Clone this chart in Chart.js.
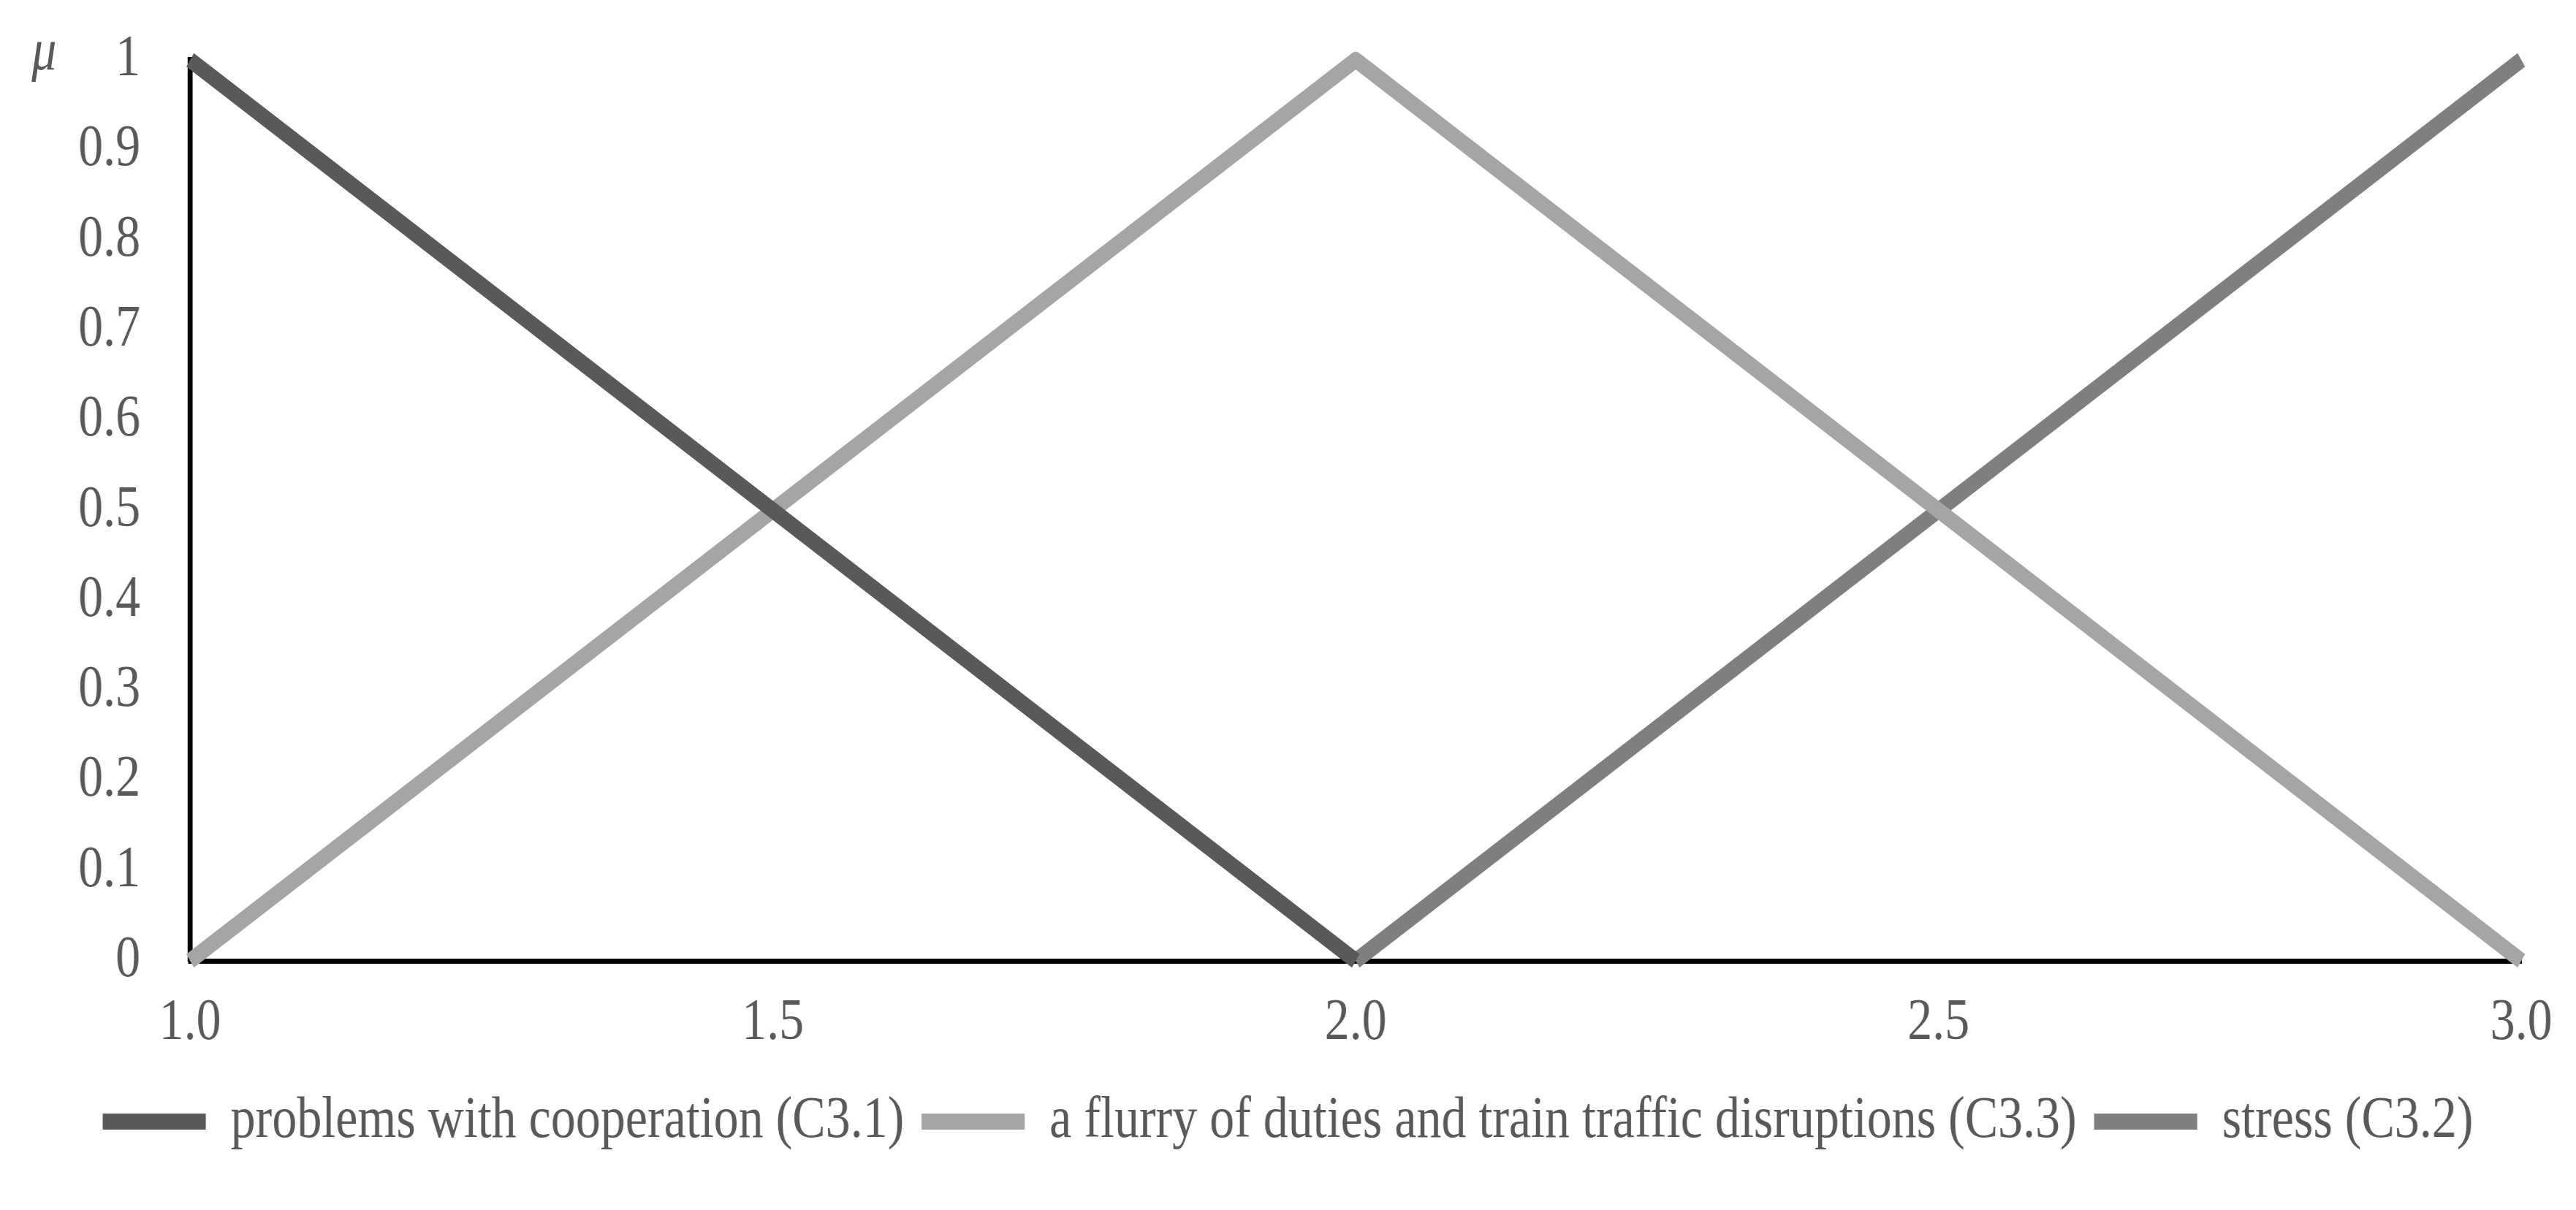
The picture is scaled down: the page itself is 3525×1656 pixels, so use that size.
<!DOCTYPE html>
<html>
<head>
<meta charset="utf-8">
<script src="https://cdn.jsdelivr.net/npm/chart.js@4.4.1/dist/chart.umd.min.js"></script>
<style>
    html, body { margin: 0; padding: 0; background: #ffffff; overflow: hidden; }
    /* the original text is a condensed serif, so draw wider and squeeze horizontally */
    #wrap {
        position: relative;
        width: 4147px;
        height: 1656px;
        transform: scaleX(0.85);
        transform-origin: 0 0;
    }
    #mu {
        position: absolute;
        left: 51px;
        top: 28px;
        font-family: "Liberation Serif", serif;
        font-style: italic;
        font-size: 80px;
        line-height: 80px;
        color: #595959;
    }
</style>
</head>
<body>
<div id="wrap">
    <canvas id="fuzzyChart" width="4147" height="1656"></canvas>
    <div id="mu">μ</div>
</div>
<script>
// ========================================
// DATA
// ========================================
const xValues = [1.0, 2.0, 3.0];
const cooperationC31 = [1, 0, null];
const flurryC33 = [0, 1, 0];
const stressC32 = [null, 0, 1];

const seriesNames = [
    'problems with cooperation (C3.1)',
    'a flurry of duties and train traffic disruptions (C3.3)',
    'stress (C3.2)'
];

const xTickLabels = ['1.0', '1.5', '2.0', '2.5', '3.0'];
const yTickLabels = ['0', '0.1', '0.2', '0.3', '0.4', '0.5', '0.6', '0.7', '0.8', '0.9', '1'];

// Build {x, y} points, skipping empty values
function toPoints(values) {
    const points = [];
    values.forEach((v, i) => {
        if (v !== null) points.push({ x: xValues[i], y: v });
    });
    return points;
}

const textColor = '#595959';
const fontFamily = '"Liberation Serif", serif';

function makeDataset(label, values, color) {
    return {
        label: label,
        data: toPoints(values),
        borderColor: color,
        backgroundColor: color,
        borderWidth: 22,
        borderCapStyle: 'butt',
        borderJoinStyle: 'round',
        pointRadius: 0,
        pointHoverRadius: 0,
        tension: 0,
        clip: false
    };
}

// ========================================
// CHART
// ========================================
const ctx = document.getElementById('fuzzyChart').getContext('2d');

new Chart(ctx, {
    type: 'line',
    data: {
        datasets: [
            makeDataset(seriesNames[0], cooperationC31, '#595959'),
            makeDataset(seriesNames[1], flurryC33, '#A5A5A5'),
            makeDataset(seriesNames[2], stressC32, '#7F7F7F')
        ]
    },
    options: {
        responsive: false,
        animation: false,
        devicePixelRatio: 1,
        layout: {
            padding: { left: 88, right: 88, top: 82, bottom: 71 }
        },
        plugins: {
            tooltip: { enabled: false },
            legend: {
                display: true,
                position: 'bottom',
                labels: {
                    color: textColor,
                    font: { family: fontFamily, size: 80 },
                    boxWidth: 166,
                    boxHeight: 22,
                    padding: 28,
                    generateLabels: function(chart) {
                        return Chart.defaults.plugins.legend.labels.generateLabels(chart).map(item => {
                            item.fillStyle = item.strokeStyle;
                            item.lineWidth = 0;
                            return item;
                        });
                    }
                }
            }
        },
        scales: {
            x: {
                type: 'linear',
                min: 1,
                max: 3,
                grid: { display: false, drawTicks: false },
                border: { display: true, color: '#000000', width: 7 },
                ticks: {
                    stepSize: 0.5,
                    padding: 38,
                    color: textColor,
                    font: { family: fontFamily, size: 80 },
                    maxRotation: 0,
                    callback: (value, index) => xTickLabels[index]
                },
                afterFit: scale => { scale.height = 152; }
            },
            y: {
                type: 'linear',
                min: 0,
                max: 1,
                grid: { display: false, drawTicks: false },
                border: { display: true, color: '#000000', width: 8 },
                ticks: {
                    stepSize: 0.1,
                    padding: 80,
                    color: textColor,
                    font: { family: fontFamily, size: 80 },
                    callback: (value, index) => yTickLabels[index]
                },
                afterFit: scale => {
                    scale.width = 218;
                    // tick padding should not push the plot down
                    scale.paddingTop = 0;
                    scale.paddingBottom = 0;
                }
            }
        }
    }
});
</script>
</body>
</html>
